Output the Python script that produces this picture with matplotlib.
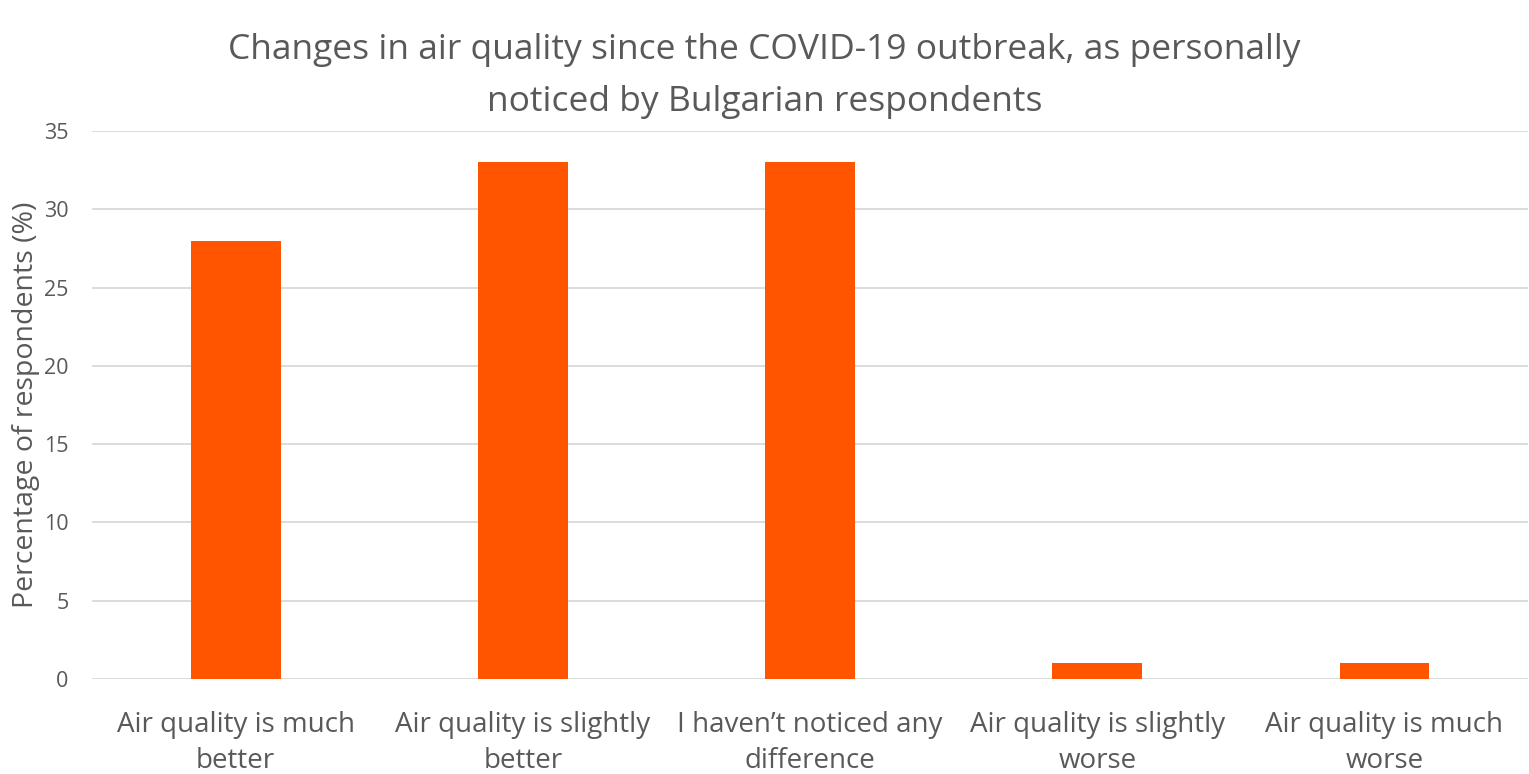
import matplotlib
matplotlib.use('Agg')
import matplotlib.pyplot as plt

categories = ['Air quality is much\nbetter', 'Air quality is slightly\nbetter',
              'I haven\u2019t noticed any\ndifference', 'Air quality is slightly\nworse',
              'Air quality is much\nworse']
values = [28, 33, 33, 1, 1]
y_ticks = [0, 5, 10, 15, 20, 25, 30, 35]

plt.rcParams['font.family'] = ['Open Sans', 'DejaVu Sans']
text_color = '#595959'

fig = plt.figure(figsize=(15.29, 7.74), dpi=100)
ax = fig.add_axes([0.0602, 0.1227, 0.9392, 0.708])

ax.bar(range(len(values)), values, width=0.3125, color='#FF5500', zorder=3)

ax.set_xlim(-0.5, len(values) - 0.5)
ax.set_ylim(0, 35)
ax.set_yticks(y_ticks)
ax.set_xticks(range(len(categories)))
ax.set_xticklabels(categories, fontsize=20, color=text_color, linespacing=1.4)
ax.tick_params(axis='y', labelsize=15.5, colors=text_color, length=0, pad=17)
ax.tick_params(axis='x', length=0, pad=23)

ax.yaxis.grid(True, color='#D9D9D9', linewidth=1.3, zorder=0)
for s in ['top', 'right', 'left', 'bottom']:
    ax.spines[s].set_visible(False)

ax.set_ylabel('Percentage of respondents (%)', fontsize=20.5, color=text_color, labelpad=3)
fig.suptitle('Changes in air quality since the COVID-19 outbreak, as personally\nnoticed by Bulgarian respondents',
             fontsize=25.5, color=text_color, y=0.958, linespacing=1.72)

fig.savefig('out.png', dpi=100)
